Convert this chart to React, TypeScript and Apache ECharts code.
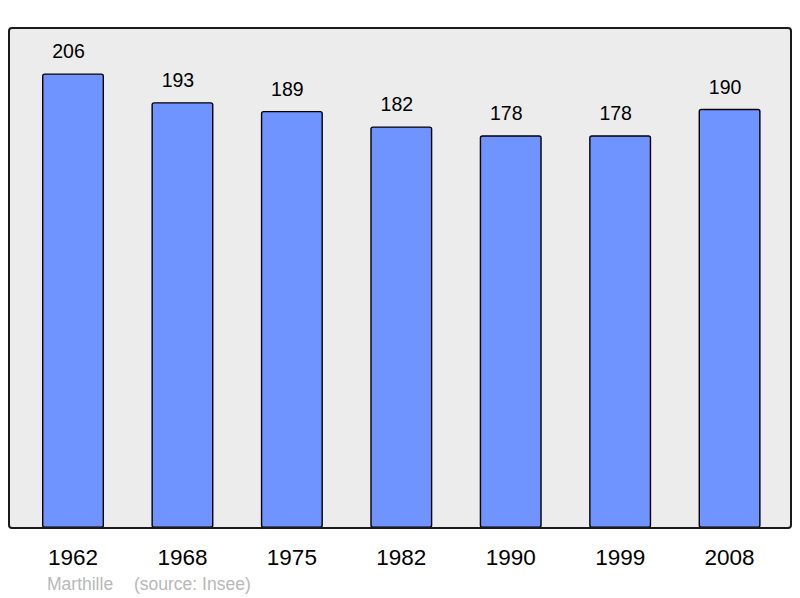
import React, { useEffect, useRef } from "react";
import * as echarts from "echarts";

const categories = ["1962", "1968", "1975", "1982", "1990", "1999", "2008"];
const populations = [206, 193, 189, 182, 178, 178, 190];
const authorText = "Marthille";
const sourceText = "(source: Insee)";

const FONT = "'Liberation Sans', Arial, sans-serif";

export default function App() {
  const ref = useRef<HTMLDivElement>(null);
  useEffect(() => {
    if (!ref.current) return;
    const chart = echarts.init(ref.current, undefined, { renderer: "svg" });
    const maxVal = Math.max(...populations) * 1.1;
    chart.setOption({
      animation: false,
      backgroundColor: "#ffffff",
      graphic: [
        {
          type: "rect",
          z: -10,
          shape: { x: 9, y: 28, width: 782, height: 500, r: 3 },
          style: { fill: "#ececec", stroke: "none" },
        },
        {
          type: "rect",
          z: 100,
          shape: { x: 9, y: 28, width: 782, height: 500, r: 3 },
          style: { fill: "none", stroke: "#1a1a1a", lineWidth: 2 },
        },
        {
          type: "text",
          x: 47,
          y: 584,
          style: {
            text: authorText,
            fill: "#b8b8b8",
            font: `17.5px ${FONT}`,
            textVerticalAlign: "middle",
          },
        },
        {
          type: "text",
          x: 134,
          y: 584,
          style: {
            text: sourceText,
            fill: "#b8b8b8",
            font: `17.5px ${FONT}`,
            textVerticalAlign: "middle",
          },
        },
      ],
      grid: { left: 18.3, top: 28, width: 766, height: 500, containLabel: false },
      xAxis: {
        type: "category",
        data: categories,
        axisLine: { show: false },
        axisTick: { show: false },
        axisLabel: {
          color: "#000",
          fontSize: 22.5,
          fontFamily: FONT,
          margin: 17.5,
        },
      },
      yAxis: {
        type: "value",
        min: 0,
        max: maxVal,
        show: false,
        splitLine: { show: false },
      },
      series: [
        {
          type: "bar",
          data: populations,
          barWidth: 62,
          itemStyle: {
            color: "#7094ff",
            borderColor: "#000",
            borderWidth: 1.4,
            borderRadius: 2,
          },
          label: {
            show: true,
            position: "top",
            distance: 12,
            offset: [-4.5, 0],
            color: "#000",
            fontSize: 19.5,
            fontFamily: FONT,
          },
        },
      ],
    });
    return () => chart.dispose();
  }, []);
  return (
    <div
      ref={ref}
      style={{ position: "fixed", left: 0, top: 0, width: 800, height: 598 }}
    />
  );
}
